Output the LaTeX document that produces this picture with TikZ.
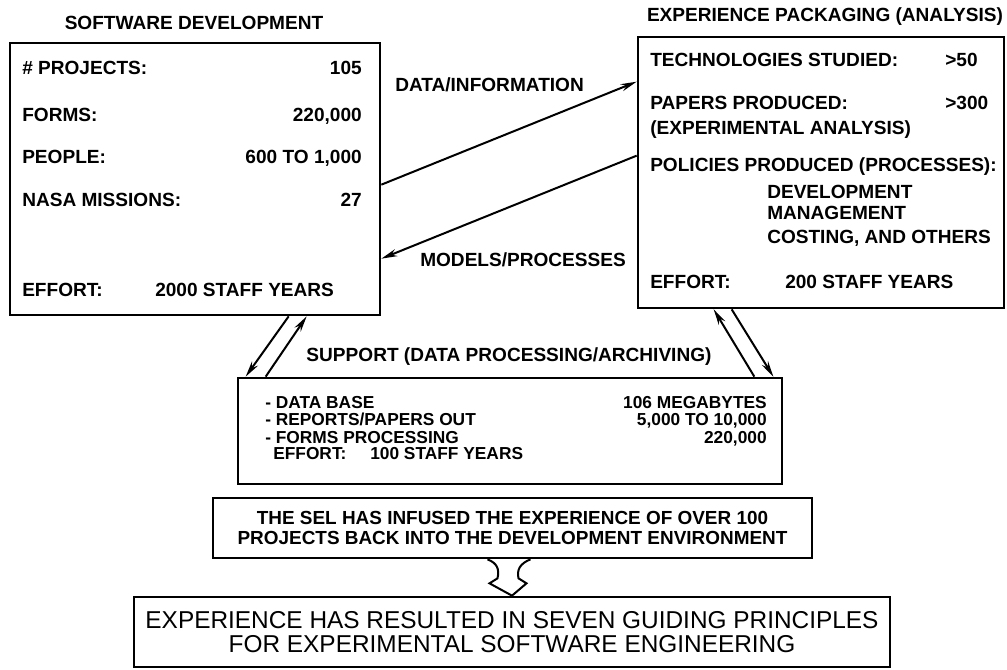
\documentclass[tikz,border=0pt]{standalone}
\usepackage{fontspec}
\setmainfont{Liberation Sans}
\usetikzlibrary{arrows.meta,calc}

\begin{document}
\begin{tikzpicture}[x=0.75pt,y=-0.75pt]
\tikzset{
    box/.style={rectangle, draw, line width=2pt, inner sep=0pt},
    txt/.style={inner sep=0pt, font=\fontsize{14.3}{17}\selectfont\bfseries},
    row/.style={txt, anchor=base west},
    val/.style={txt, anchor=base east},
    small/.style={font=\fontsize{13}{15}\selectfont\bfseries},
    flow/.style={line width=1.5pt, -{Stealth[length=12pt,width=5.5pt]}},
    bolt/.style={line width=1.5pt, line join=miter}
}
\useasboundingbox (0,0) rectangle (1007,670);

% software development
\node[box, minimum width=277.5pt, minimum height=204pt] (dev) at (195,179) {};
\node[txt, anchor=base] (devT) at (194,29.5) {SOFTWARE DEVELOPMENT};
\node[row] (devA) at (22,74.5) {\# PROJECTS:};
\node[val] (devAv) at (362,74.5) {105};
\node[row] (devB) at (22,121.5) {FORMS:};
\node[val] (devBv) at (362,121.5) {220,000};
\node[row] (devC) at (22,163.5) {PEOPLE:};
\node[val] (devCv) at (362,163.5) {600 TO 1,000};
\node[row] (devD) at (22,206.5) {NASA MISSIONS:};
\node[val] (devDv) at (362,206.5) {27};
\node[row] (devE) at (22,296.5) {EFFORT:};
\node[row] (devEv) at (155,296.5) {2000 STAFF YEARS};

% experience packaging
\node[box, minimum width=274.5pt, minimum height=203.25pt] (pack) at (821,172.5) {};
\node[txt, anchor=base] (packT) at (825,21.5) {EXPERIENCE PACKAGING (ANALYSIS)};
\node[row] (packA) at (650,66.5) {TECHNOLOGIES STUDIED:};
\node[row] (packAv) at (945,66.5) {>50};
\node[row] (packB) at (650,109.5) {PAPERS PRODUCED:};
\node[row] (packBv) at (945,109.5) {>300};
\node[row] (packC) at (650,134.5) {(EXPERIMENTAL ANALYSIS)};
\node[row] (packD) at (650,171.5) {POLICIES PRODUCED (PROCESSES):};
\node[row] (packD1) at (767,198.5) {DEVELOPMENT};
\node[row] (packD2) at (767,219.5) {MANAGEMENT};
\node[row] (packD3) at (767,243.5) {COSTING, AND OTHERS};
\node[row] (packE) at (650,288.5) {EFFORT:};
\node[row] (packEv) at (785,288.5) {200 STAFF YEARS};

% support
\node[box, minimum width=408pt, minimum height=79.5pt] (supp) at (510,431) {};
\node[txt, anchor=base] (suppT) at (509,361.5) {SUPPORT (DATA PROCESSING/ARCHIVING)};
\node[row, small] (suppA) at (265,408) {- DATA BASE};
\node[val, small] (suppAv) at (767,408) {106 MEGABYTES};
\node[row, small] (suppB) at (265,425) {- REPORTS/PAPERS OUT};
\node[val, small] (suppBv) at (767,425) {5,000 TO 10,000};
\node[row, small] (suppC) at (265,443) {- FORMS PROCESSING};
\node[val, small] (suppCv) at (767,443) {220,000};
\node[row, small] (suppD) at (273,459) {EFFORT:};
\node[row, small] (suppDv) at (370,459) {100 STAFF YEARS};

% results
\node[box, minimum width=449.25pt, minimum height=45pt, align=center,
      font=\fontsize{14.2}{15}\selectfont\bfseries] (sel) at (512.5,528)
      {THE SEL HAS INFUSED THE EXPERIENCE OF OVER 100\\PROJECTS BACK INTO THE DEVELOPMENT ENVIRONMENT};
\node[box, minimum width=567pt, minimum height=52.5pt, align=center,
      font=\fontsize{18.3}{17.5}\selectfont] (goal) at (512,632)
      {EXPERIENCE HAS RESULTED IN SEVEN GUIDING PRINCIPLES\\FOR EXPERIMENTAL SOFTWARE ENGINEERING};

% flows between the boxes
\draw[flow] ($(dev.north east)+(0,143)$) -- ($(pack.north west)+(0,46)$);
\node[row] (dataL) at (395,91.5) {DATA/INFORMATION};
\draw[flow] ($(pack.north west)+(0,120)$) -- ($(dev.north east)+(0,217)$);
\node[row] (modL) at (420,266.5) {MODELS/PROCESSES};

\draw[flow] ($(dev.south west)+(280,0)$) -- ($(supp.north west)+(9,0)$);
\draw[flow] ($(supp.north west)+(29,0)$) -- ($(dev.south west)+(298,0)$);
\draw[flow] ($(supp.north east)+(-29,0)$) -- ($(pack.south west)+(77,0)$);
\draw[flow] ($(pack.south west)+(95,0)$) -- ($(supp.north east)+(-10,0)$);

% lightning arrow
\coordinate (bl0) at ($(sel.south)+(-25,0)$);
\coordinate (bl1) at ($(sel.south)+(-15,19)$);
\coordinate (bl2) at ($(sel.south)+(-23,24)$);
\coordinate (br0) at ($(sel.south)+(18,0)$);
\coordinate (br1) at ($(sel.south)+(6,19)$);
\coordinate (br2) at ($(sel.south)+(14,24)$);
\draw[bolt] (bl0) .. controls ($(bl0)+(10,4)$) and ($(bl1)+(2,-9)$) .. (bl1) -- (bl2) -- (goal.north);
\draw[bolt] (br0) .. controls ($(br0)+(-10,4)$) and ($(br1)+(-2,-9)$) .. (br1) -- (br2) -- (goal.north);
\end{tikzpicture}
\end{document}
